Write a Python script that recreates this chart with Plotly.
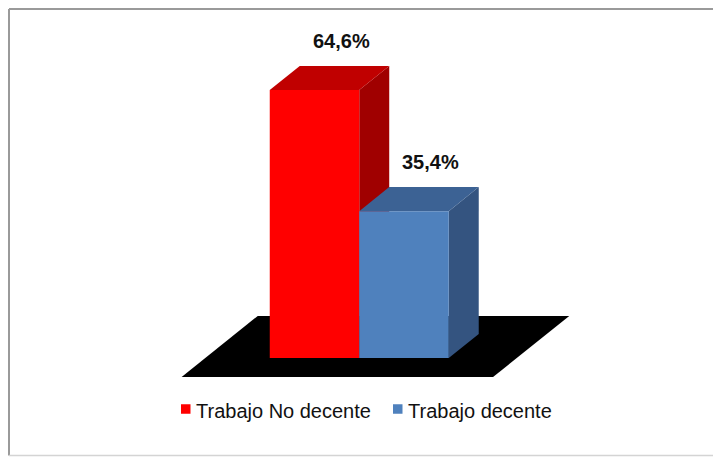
import plotly.graph_objects as go

# ---- data ----
categories = ["Trabajo No decente", "Trabajo decente"]
values = [64.6, 35.4]
labels = ["64,6%", "35,4%"]

# ---- style ----
front_colors = ["#FF0000", "#4F81BD"]
top_colors = ["#C00000", "#3C6294"]
side_colors = ["#A00000", "#345480"]
BAR_W = 1.0      # category units
DX = 0.335       # depth offset in category units
DY = 5.8         # depth offset in value units
FLOOR_D0, FLOOR_D1 = -0.79, 1.75
FLOOR_PAD_L, FLOOR_PAD_R = 0.72, 0.76
LABEL_DX, LABEL_DY = 0.30, 11.8

W, H = 713, 450   # page adds an 8px body margin

fig = go.Figure()

n = len(values)
# floor (plane at value 0)
fx0 = -BAR_W / 2 - FLOOR_PAD_L
fx1 = (n - 1) + BAR_W / 2 + FLOOR_PAD_R
floor_x = [fx0 + FLOOR_D0 * DX, fx1 + FLOOR_D0 * DX, fx1 + FLOOR_D1 * DX, fx0 + FLOOR_D1 * DX, fx0 + FLOOR_D0 * DX]
floor_y = [FLOOR_D0 * DY, FLOOR_D0 * DY, FLOOR_D1 * DY, FLOOR_D1 * DY, FLOOR_D0 * DY]
fig.add_trace(go.Scatter(x=floor_x, y=floor_y, fill="toself", fillcolor="#000000",
                         mode="lines", line=dict(width=0, color="#000000"),
                         showlegend=False, hoverinfo="skip"))

for i, (v, fc, tc, sc) in enumerate(zip(values, front_colors, top_colors, side_colors)):
    x0, x1 = i - BAR_W / 2, i + BAR_W / 2
    # side face
    fig.add_trace(go.Scatter(x=[x1, x1 + DX, x1 + DX, x1, x1], y=[0, DY, v + DY, v, 0],
                             fill="toself", fillcolor=sc, mode="lines",
                             line=dict(width=0, color=sc), showlegend=False, hoverinfo="skip"))
    # top face
    fig.add_trace(go.Scatter(x=[x0, x1, x1 + DX, x0 + DX, x0], y=[v, v, v + DY, v + DY, v],
                             fill="toself", fillcolor=tc, mode="lines",
                             line=dict(width=0, color=tc), showlegend=False, hoverinfo="skip"))
    # front face
    fig.add_trace(go.Scatter(x=[x0, x1, x1, x0, x0], y=[0, 0, v, v, 0],
                             fill="toself", fillcolor=fc, mode="lines",
                             line=dict(width=0, color=fc), showlegend=False,
                             name=categories[i], hoverinfo="name+y"))

# value labels
for i, (v, t) in enumerate(zip(values, labels)):
    fig.add_annotation(x=i + LABEL_DX, y=v + LABEL_DY, text="<b>" + t + "</b>",
                       showarrow=False, xanchor="center", yanchor="middle",
                       font=dict(family="Liberation Sans, Arial", size=20, color="#111111"))

# legend (swatch + text)
legend_items_x = [173, 385]   # swatch left edge, px
LEG_Y = 401                   # px from top, centre of row
SW = 9.5
for name, c, lx in zip(categories, front_colors, legend_items_x):
    fig.add_shape(type="rect", xref="paper", yref="paper",
                  x0=lx / W, x1=(lx + SW) / W,
                  y0=1 - (LEG_Y + SW / 2) / H, y1=1 - (LEG_Y - SW / 2) / H,
                  fillcolor=c, line=dict(width=0))
    fig.add_annotation(xref="paper", yref="paper", x=(lx + SW + 3) / W, y=1 - (LEG_Y + 1.5) / H,
                       text=name, showarrow=False, xanchor="left", yanchor="middle",
                       font=dict(family="Liberation Sans, Arial", size=20, color="#111111"))

# chart frame
fig.add_shape(type="line", xref="paper", yref="paper", x0=1 / W, x1=1.01, y0=1 - 1 / H, y1=1 - 1 / H,
              line=dict(color="#9a9a9a", width=2))
fig.add_shape(type="line", xref="paper", yref="paper", x0=1 / W, x1=1 / W, y0=1 - 1 / H, y1=1 - 447.5 / H,
              line=dict(color="#9a9a9a", width=2))
fig.add_shape(type="line", xref="paper", yref="paper", x0=1 / W, x1=1.01, y0=1 - 447.5 / H, y1=1 - 447.5 / H,
              line=dict(color="#d4d4d4", width=1.5))

fig.update_layout(
    width=W, height=H,
    margin=dict(l=0, r=0, t=0, b=0),
    paper_bgcolor="white", plot_bgcolor="white",
    xaxis=dict(range=[-306.5 / 89.5, (W - 306.5) / 89.5], visible=False, fixedrange=True),
    yaxis=dict(range=[(350 - H) / 4.149, 350 / 4.149], visible=False, fixedrange=True),
    showlegend=False,
)

fig.write_html("out.html")
